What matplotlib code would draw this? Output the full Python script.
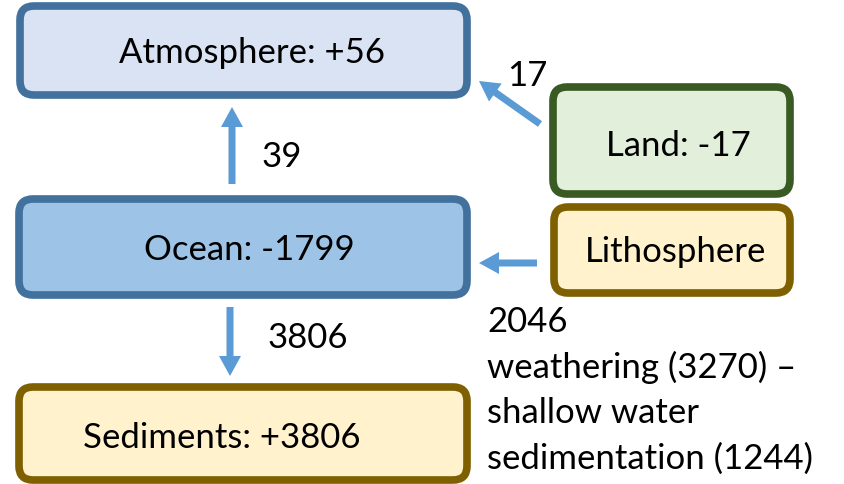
import matplotlib
matplotlib.use("Agg")
import matplotlib.pyplot as plt
from matplotlib.patches import FancyBboxPatch, FancyArrow

plt.rcParams['font.family'] = ['Lato', 'DejaVu Sans']

# data
box_labels = ["Atmosphere: +56", "Ocean: -1799", "Sediments: +3806", "Land: -17", "Lithosphere"]
flow_labels = ["39", "3806", "17"]
note_lines = ["2046", "weathering (3270) \u2013", "shallow water", "sedimentation (1244)"]

W, H = 845, 484
fig = plt.figure(figsize=(W / 100, H / 100), dpi=100)
ax = fig.add_axes([0, 0, 1, 1])
ax.set_xlim(0, W)
ax.set_ylim(H, 0)
ax.axis('off')

boxes = [
    # x0, y0, x1, y1, face, edge, text x, text y
    (20, 6, 467, 95, '#DAE3F3', '#41719C', 252, 53),
    (19, 199, 467, 295, '#9DC3E6', '#41719C', 249, 250),
    (19, 387, 467, 480, '#FFF2CC', '#7F6000', 222, 438),
    (553, 87, 790, 194, '#E2EFDA', '#3A5A24', 678, 146),
    (554, 207, 790, 293, '#FFF2CC', '#7F6000', 676, 252),
]
r = 14
fs = 25
for (x0, y0, x1, y1, fc, ec, tx, ty), lab in zip(boxes, box_labels):
    p = FancyBboxPatch((x0 + r, y0 + r), (x1 - x0) - 2 * r, (y1 - y0) - 2 * r,
                       boxstyle=f"round,pad={r}", fc=fc, ec=ec, lw=5.5)
    ax.add_patch(p)
    ax.text(tx, ty, lab, ha='center', va='center', fontsize=fs, color='black')

ac = '#5B9BD5'
def arrow(x0, y0, x1, y1):
    ax.add_patch(FancyArrow(x0, y0, x1 - x0, y1 - y0, width=7, head_width=22,
                            head_length=20, length_includes_head=True,
                            fc=ac, ec='none'))

arrow(232, 184, 232, 107)
arrow(230, 307, 230, 376)
arrow(540, 124, 479, 81)
arrow(537, 263, 479, 263)

ax.text(262, 157, flow_labels[0], ha='left', va='center', fontsize=fs)
ax.text(268, 338, flow_labels[1], ha='left', va='center', fontsize=fs)
ax.text(507, 76, flow_labels[2], ha='left', va='center', fontsize=fs)

for i, line in enumerate(note_lines):
    ax.text(487, 322 + 45.5 * i, line, ha='left', va='center', fontsize=fs)

fig.savefig('out.png', dpi=100)
